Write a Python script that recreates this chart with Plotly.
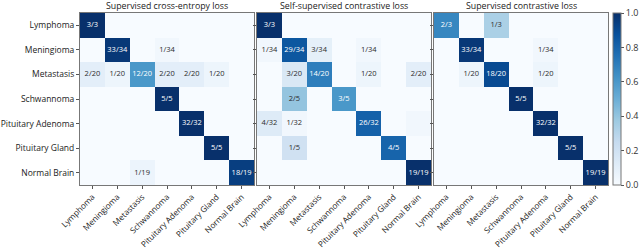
import plotly.graph_objects as go

classes = ["Lymphoma", "Meningioma", "Metastasis", "Schwannoma",
           "Pituitary Adenoma", "Pituitary Gland", "Normal Brain"]
totals = [3, 34, 20, 5, 32, 5, 19]
titles = ["Supervised cross-entropy loss", "Self-supervised contrastive loss",
          "Supervised contrastive loss"]

counts_ce = [
    [3, 0, 0, 0, 0, 0, 0],
    [0, 33, 0, 1, 0, 0, 0],
    [2, 1, 12, 2, 2, 1, 0],
    [0, 0, 0, 5, 0, 0, 0],
    [0, 0, 0, 0, 32, 0, 0],
    [0, 0, 0, 0, 0, 5, 0],
    [0, 0, 1, 0, 0, 0, 18],
]
counts_ssl = [
    [3, 0, 0, 0, 0, 0, 0],
    [1, 29, 3, 0, 1, 0, 0],
    [0, 3, 14, 0, 1, 0, 2],
    [0, 2, 0, 3, 0, 0, 0],
    [4, 1, 0, 0, 26, 0, 1],
    [0, 1, 0, 0, 0, 4, 0],
    [0, 0, 0, 0, 0, 0, 19],
]
counts_scl = [
    [2, 0, 1, 0, 0, 0, 0],
    [0, 33, 0, 0, 1, 0, 0],
    [0, 1, 18, 0, 1, 0, 0],
    [0, 0, 0, 5, 0, 0, 0],
    [0, 0, 0, 0, 32, 0, 0],
    [0, 0, 0, 0, 0, 5, 0],
    [0, 0, 0, 0, 0, 0, 19],
]
# cells shown without a printed label in the reference (panel, row, col)
unlabeled = [(1, 4, 6)]

panels = [counts_ce, counts_ssl, counts_scl]

blues = ['rgb(247,251,255)', 'rgb(222,235,247)', 'rgb(198,219,239)',
         'rgb(158,202,225)', 'rgb(107,174,214)', 'rgb(66,146,198)',
         'rgb(33,113,181)', 'rgb(8,81,156)', 'rgb(8,48,107)']
cscale = [[i / (len(blues) - 1), c] for i, c in enumerate(blues)]

W, H = 640, 249
ML, MR, MT, MB = 80, 32, 13, 64
PW = W - ML - MR
x_px = [(80, 254), (257, 431), (434, 608)]

FONT = "Open Sans"
fig = go.Figure()
n = len(classes)
idx = list(range(n))

for p, counts in enumerate(panels):
    z = [[counts[r][c] / totals[r] for c in idx] for r in idx]
    xa = "x" if p == 0 else f"x{p+1}"
    ya = "y" if p == 0 else f"y{p+1}"
    fig.add_trace(go.Heatmap(
        z=z, x=idx, y=idx, zmin=0, zmax=1, colorscale=cscale,
        xaxis=xa, yaxis=ya, showscale=(p == 2), hoverinfo="skip",
        colorbar=dict(x=(613 - ML) / PW, xanchor="left", xpad=0, ypad=0,
                      y=0.5, yanchor="middle", len=1, lenmode="fraction",
                      thickness=8, outlinecolor="#777", outlinewidth=1,
                      tickvals=[0, 0.2, 0.4, 0.6, 0.8, 1.0],
                      ticktext=["0.0", "0.2", "0.4", "0.6", "0.8", "1.0"],
                      ticks="outside", ticklen=3, tickcolor="#555",
                      tickfont=dict(family=FONT, size=9, color="#333")),
    ))
    for light in (True, False):
        xs, ys, ts = [], [], []
        for r in idx:
            for c in idx:
                v = counts[r][c]
                if v == 0 or (p, r, c) in unlabeled:
                    continue
                if (v / totals[r] > 0.5) != light:
                    continue
                xs.append(c); ys.append(r); ts.append(f"{v}/{totals[r]}")
        fig.add_trace(go.Scatter(
            x=xs, y=ys, text=ts, mode="text", xaxis=xa, yaxis=ya,
            hoverinfo="skip", showlegend=False,
            textfont=dict(family=FONT, size=7.5,
                          color="white" if light else "#2b2b2b")))
    x0, x1 = x_px[p]
    axx = dict(domain=[(x0 - ML) / PW, (x1 - ML) / PW], anchor=ya,
               range=[-0.5, n - 0.5],
               tickvals=idx, ticktext=classes, tickangle=-45,
               ticks="outside", ticklen=3, tickcolor="#555",
               showline=True, linecolor="#777", linewidth=1, mirror=True,
               showgrid=False, zeroline=False, automargin=False,
               tickfont=dict(family=FONT, size=8.2, color="#222"))
    axy = dict(domain=[0, 1], anchor=xa, range=[n - 0.5, -0.5],
               tickvals=idx, ticktext=classes if p == 0 else [""] * n,
               ticks="outside", ticklen=3, tickcolor="#555",
               showline=True, linecolor="#777", linewidth=1, mirror=True,
               showgrid=False, zeroline=False, automargin=False,
               tickfont=dict(family=FONT, size=8.5, color="#222"))
    key = "" if p == 0 else str(p + 1)
    fig.update_layout(**{f"xaxis{key}": axx, f"yaxis{key}": axy})
    fig.add_annotation(text=titles[p], xref=f"{xa} domain", yref=f"{ya} domain",
                       x=0.5, y=1, yanchor="bottom", xanchor="center",
                       yshift=-1, showarrow=False,
                       font=dict(family=FONT, size=8.8, color="#222"))

fig.update_layout(width=W, height=H,
                  margin=dict(l=ML, r=MR, t=MT, b=MB, pad=0, autoexpand=False),
                  paper_bgcolor="white", plot_bgcolor="white",
                  showlegend=False)
fig.write_html("out.html", config={"displayModeBar": False},
               post_script="document.body.style.margin='0';"
                           "document.body.style.overflow='hidden';")
